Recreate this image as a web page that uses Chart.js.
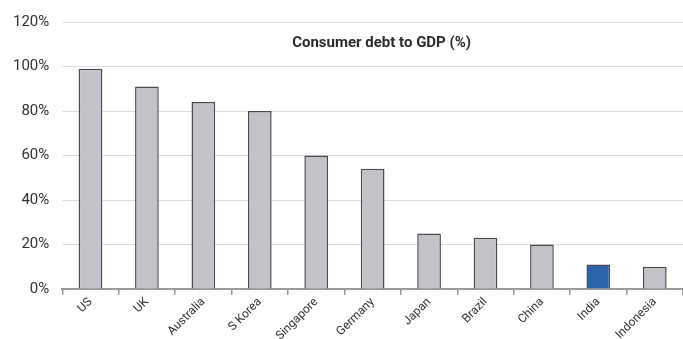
<!DOCTYPE html>
<html>
<head>
<meta charset="utf-8">
<script src="https://cdn.jsdelivr.net/npm/chart.js@4.4.0/dist/chart.umd.min.js"></script>
<style>
  html, body { margin: 0; padding: 0; background: #fff; }
  #wrap { width: 683px; height: 339px; }
</style>
</head>
<body>
<div id="wrap"><canvas id="grafica"></canvas></div>
<script>
const paises = ["US", "UK", "Australia", "S Korea", "Singapore", "Germany", "Japan", "Brazil", "China", "India", "Indonesia"];
const deuda = [99, 91, 84, 80, 60, 54, 25, 23, 20, 11, 10];
const titulo = "Consumer debt to GDP (%)";
const destacado = "India";

const colores = paises.map(p => p === destacado ? "#2b63ad" : "#c1c3c9");

// titulo dibujado dentro del area del grafico
const tituloPlugin = {
  id: "tituloDentro",
  afterDraw(chart) {
    const { ctx, chartArea } = chart;
    ctx.save();
    ctx.font = "bold 15px Roboto";
    ctx.fillStyle = "#2b2b2b";
    ctx.textAlign = "center";
    ctx.textBaseline = "middle";
    ctx.fillText(titulo, (chartArea.left + chartArea.right) / 2 + 9, chartArea.top + 21);
    ctx.restore();
  }
};

new Chart(document.getElementById("grafica"), {
  type: "bar",
  data: {
    labels: paises,
    datasets: [{
      data: deuda,
      backgroundColor: colores,
      borderColor: "#4a4a4a",
      borderWidth: 1.5,
      barPercentage: 0.42,
      categoryPercentage: 1
    }]
  },
  options: {
    responsive: true,
    maintainAspectRatio: false,
    animation: false,
    layout: { padding: { top: -3, right: 0, left: 0, bottom: 0 } },
    plugins: { legend: { display: false }, tooltip: { enabled: false } },
    scales: {
      x: {
        afterFit: s => { s.height = 50; },
        grid: { display: true, drawOnChartArea: false, drawTicks: true, tickLength: 6, color: "#9a9a9a", lineWidth: 1.5, offset: true },
        border: { display: true, color: "#9a9a9a", width: 2 },
        ticks: { color: "#333", font: { family: "Roboto", size: 12 }, minRotation: 45, maxRotation: 45, padding: 0 }
      },
      y: {
        min: 0, max: 120,
        grid: { color: "#dcdce4", lineWidth: 1, drawTicks: false },
        border: { display: false },
        ticks: { stepSize: 20, color: "#333", font: { family: "Roboto", size: 15 }, padding: 13, callback: v => v + "%" }
      }
    }
  },
  plugins: [tituloPlugin]
});
</script>
</body>
</html>
